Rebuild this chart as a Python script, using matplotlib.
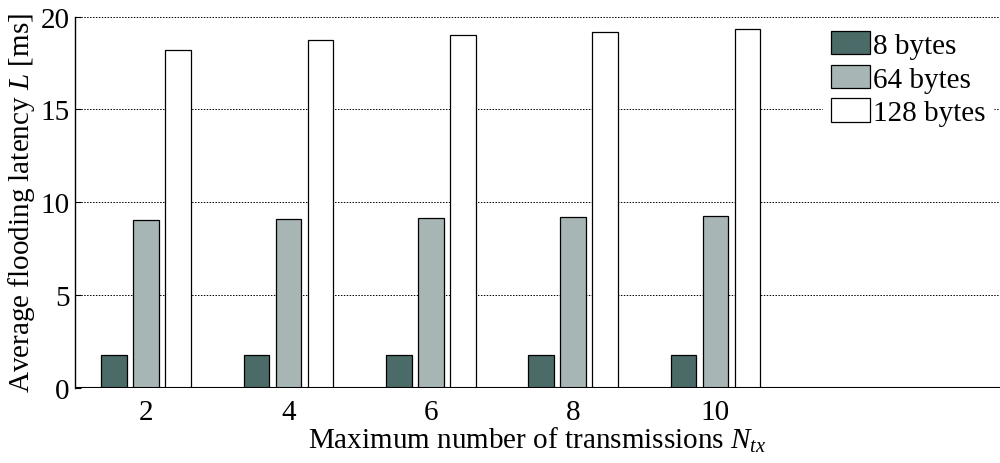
import numpy as np
import matplotlib.pyplot as plt

plt.rcParams['font.family'] = ['Liberation Serif', 'DejaVu Serif']
plt.rcParams['mathtext.fontset'] = 'custom'
plt.rcParams['mathtext.rm'] = 'Liberation Serif'
plt.rcParams['mathtext.it'] = 'Liberation Serif:italic'

# data
ntx = np.array([2, 4, 6, 8, 10])
lat_8 = [1.75, 1.75, 1.75, 1.75, 1.75]
lat_64 = [9.02, 9.10, 9.14, 9.18, 9.28]
lat_128 = [18.18, 18.75, 19.02, 19.16, 19.33]
labels = ['8 bytes', '64 bytes', '128 bytes']
colors = ['#4a6b68', '#a7b5b4', '#ffffff']

fig = plt.figure(figsize=(10, 4.64), dpi=100)
ax = fig.add_axes([0.075, 0.162, 0.925, 0.80])

w = 0.36
offs = [-0.45, 0.0, 0.45]
for vals, off, c, lab in zip([lat_8, lat_64, lat_128], offs, colors, labels):
    ax.bar(ntx + off, vals, width=w, color=c, edgecolor='black', linewidth=0.9,
           label=lab, zorder=3)

ax.axhline(0, color='black', linewidth=1.5, zorder=4)
ax.set_xlim(1, 14)
ax.set_ylim(0, 20)
ax.set_xticks(ntx)
ax.set_yticks([0, 5, 10, 15, 20])
ax.yaxis.grid(True, linestyle=(0, (1.5, 1.5)), color='black', linewidth=0.7)
ax.set_axisbelow(True)
ax.tick_params(axis='x', length=0, labelsize=21, pad=8)
ax.tick_params(axis='y', direction='in', length=4, labelsize=21, pad=4)
for s in ['top', 'right', 'bottom']:
    ax.spines[s].set_visible(False)
ax.spines['left'].set_linewidth(1.0)

ax.set_xlabel('Maximum number of transmissions $N_{tx}$', fontsize=21, labelpad=0)
ax.set_ylabel('Average flooding latency $L$ [ms]', fontsize=21, labelpad=2)

leg = ax.legend(loc='upper right', fontsize=21, frameon=True, framealpha=1,
                edgecolor='white', fancybox=False, handlelength=1.35,
                handleheight=0.85, handletextpad=0.1, labelspacing=0.2,
                borderpad=0.25, borderaxespad=0.25)
leg.set_zorder(5)

fig.savefig('out.png', dpi=100)
